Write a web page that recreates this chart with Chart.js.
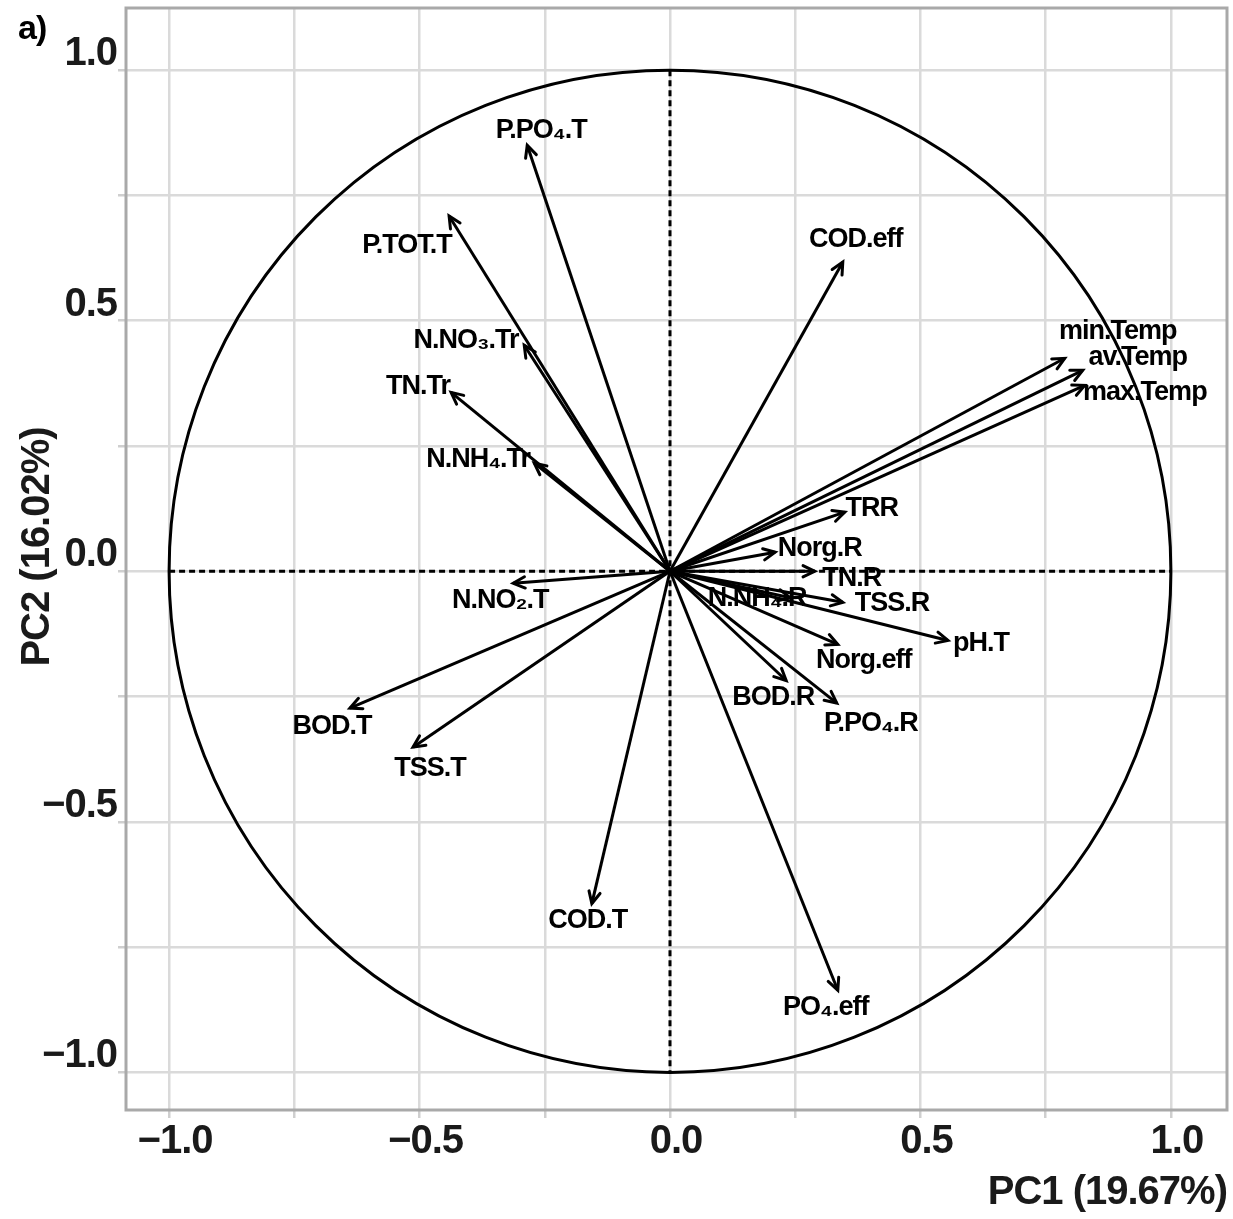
<!DOCTYPE html>
<html><head><meta charset="utf-8">
<script src="https://cdn.jsdelivr.net/npm/chart.js@4.4.0/dist/chart.umd.min.js"></script>
<style>html,body{margin:0;padding:0;background:#fff;} #wrap{width:1233px;height:1219px;}</style>
</head><body><div id="wrap"><canvas id="c" width="1233" height="1219"></canvas></div>
<script>
// ---- data (variable loadings on PC1 / PC2) ----
const variables = ["P.PO\u2084.T","P.TOT.T","N.NO\u2083.Tr","TN.Tr","N.NH\u2084.Tr","N.NO\u2082.T","BOD.T","TSS.T","COD.T","PO\u2084.eff","COD.eff","min.Temp","av.Temp","max.Temp","TRR","Norg.R","TN.R","TSS.R","pH.T","Norg.eff","BOD.R","P.PO\u2084.R","N.NH\u2084.R"];
const pc1 = [-0.285,-0.441,-0.291,-0.437,-0.271,-0.313,-0.639,-0.513,-0.156,0.335,0.345,0.788,0.824,0.828,0.349,0.210,0.289,0.345,0.555,0.335,0.232,0.333,0.240];
const pc2 = [0.850,0.709,0.451,0.357,0.216,-0.024,-0.273,-0.351,-0.663,-0.836,0.617,0.425,0.401,0.371,0.118,0.038,0.000,-0.062,-0.138,-0.146,-0.218,-0.263,-0.053];
// label anchor points (data units, repelled positions)
const labelX = [-0.257,-0.525,-0.407,-0.503,-0.383,-0.339,-0.675,-0.479,-0.164,0.311,0.371,0.894,0.934,0.948,0.403,0.299,0.363,0.443,0.621,0.387,0.206,0.401,0.174];
const labelY = [0.880,0.649,0.461,0.369,0.222,-0.058,-0.309,-0.393,-0.697,-0.870,0.661,0.479,0.427,0.357,0.126,0.046,-0.014,-0.064,-0.144,-0.178,-0.251,-0.303,-0.054];
// axes
const gridValues = [-1,-0.75,-0.5,-0.25,0,0.25,0.5,0.75,1];
const tickValues = [-1,-0.5,0,0.5,1];
const tickLabels = ["\u22121.0","\u22120.5","0.0","0.5","1.0"];
const xTitle = "PC1 (19.67%)";
const yTitle = "PC2 (16.02%)";
const panelTag = "a)";

const datasets = variables.map((v,i)=>({
  label: v,
  data: [{x:0,y:0},{x:pc1[i],y:pc2[i]}],
  showLine: true,
  borderColor: '#000',
  borderWidth: 3,
  pointRadius: 0,
  fill: false
}));

function tickCb(value){
  const i = tickValues.findIndex(t => Math.abs(t - value) < 1e-6);
  return i >= 0 ? tickLabels[i] : '';
}
function setTicks(scale){ scale.ticks = gridValues.map(v => ({value: v})); }

const FAM = '"Liberation Sans", Arial, sans-serif';

const decor = {
  id: 'decor',
  beforeDraw(chart){ chart.ctx.letterSpacing = '-1px'; },
  beforeDatasetsDraw(chart){
    const {ctx, chartArea: ca, scales:{x, y}} = chart;
    const cx = x.getPixelForValue(0), cy = y.getPixelForValue(0);
    ctx.save();
    // panel border
    ctx.strokeStyle = '#a9a9a9';
    ctx.lineWidth = 3;
    ctx.strokeRect(ca.left, ca.top, ca.right - ca.left, ca.bottom - ca.top);
    ctx.strokeStyle = '#000';
    ctx.lineWidth = 3;
    ctx.setLineDash([6,4]);
    ctx.beginPath();
    ctx.moveTo(x.getPixelForValue(-1), cy); ctx.lineTo(x.getPixelForValue(1), cy);
    ctx.moveTo(cx, y.getPixelForValue(1)); ctx.lineTo(cx, y.getPixelForValue(-1));
    ctx.stroke();
    ctx.setLineDash([]);
    ctx.beginPath();
    const rx = x.getPixelForValue(1) - cx, ry = cy - y.getPixelForValue(1);
    ctx.ellipse(cx, cy, rx, ry, 0, 0, Math.PI*2);
    ctx.stroke();
    ctx.restore();
  },
  afterDatasetsDraw(chart){
    const {ctx, chartArea: ca, scales:{x, y}} = chart;
    const cx = x.getPixelForValue(0), cy = y.getPixelForValue(0);
    ctx.save();
    ctx.strokeStyle = '#000';
    ctx.fillStyle = '#000';
    ctx.lineWidth = 3;
    ctx.lineCap = 'round';
    variables.forEach((v,i)=>{
      const tx = x.getPixelForValue(pc1[i]), ty = y.getPixelForValue(pc2[i]);
      const a = Math.atan2(ty - cy, tx - cx);
      const L = 13, w = 0.45;
      ctx.beginPath();
      ctx.moveTo(tx - L*Math.cos(a - w), ty - L*Math.sin(a - w));
      ctx.lineTo(tx, ty);
      ctx.lineTo(tx - L*Math.cos(a + w), ty - L*Math.sin(a + w));
      ctx.stroke();
    });
    ctx.font = 'bold 27px ' + FAM;
    ctx.letterSpacing = '-1px';
    ctx.textAlign = 'center';
    ctx.textBaseline = 'middle';
    variables.forEach((v,i)=>{
      ctx.fillText(v, x.getPixelForValue(labelX[i]), y.getPixelForValue(labelY[i]));
    });
    // panel tag
    ctx.font = 'bold 34px ' + FAM;
    ctx.textAlign = 'left';
    ctx.fillText(panelTag, 18, 30);
    // y axis title
    ctx.fillStyle = '#1a1a1a';
    ctx.font = 'bold 40px ' + FAM;
    ctx.letterSpacing = '-1px';
    ctx.translate(ca.left - 88, (ca.top + ca.bottom)/2 - 12);
    ctx.rotate(-Math.PI/2);
    ctx.textAlign = 'center';
    ctx.fillText(yTitle, 0, 0);
    ctx.restore();
  }
};

const fontTick = {family: FAM, size: 40, weight: 'bold'};

new Chart(document.getElementById('c'), {
  type: 'scatter',
  data: { datasets },
  plugins: [decor],
  options: {
    responsive: false,
    devicePixelRatio: 1,
    animation: false,
    layout: { padding: {top: 8, right: 6, left: 0, bottom: 0} },
    plugins: { legend: {display: false}, tooltip: {enabled: false} },
    scales: {
      x: {
        type: 'linear', min: -1.086, max: 1.112,
        afterBuildTicks: setTicks,
        afterFit(s){ s.height = 109; s.paddingLeft = 0; s.paddingRight = 0; },
        border: {display: false},
        grid: {color: '#dadada', lineWidth: 2.5, tickLength: 8, tickColor: '#cfcfcf'},
        ticks: {callback: tickCb, color: '#1a1a1a', font: fontTick, padding: 0, maxRotation: 0, autoSkip: false, labelOffset: 6},
        title: {display: true, text: xTitle, align: 'end', color: '#1a1a1a', font: fontTick, padding: {top: 0, bottom: 2}}
      },
      y: {
        type: 'linear', min: -1.075, max: 1.124,
        afterBuildTicks: setTicks,
        afterFit(s){ s.width = 126; s.paddingTop = 0; s.paddingBottom = 0; },
        border: {display: false},
        grid: {color: '#dadada', lineWidth: 2.5, tickLength: 8, tickColor: '#cfcfcf'},
        ticks: {callback: tickCb, color: '#1a1a1a', font: fontTick, padding: 1, autoSkip: false, labelOffset: -16},
        title: {display: false}
      }
    }
  }
});
</script>
</body></html>
